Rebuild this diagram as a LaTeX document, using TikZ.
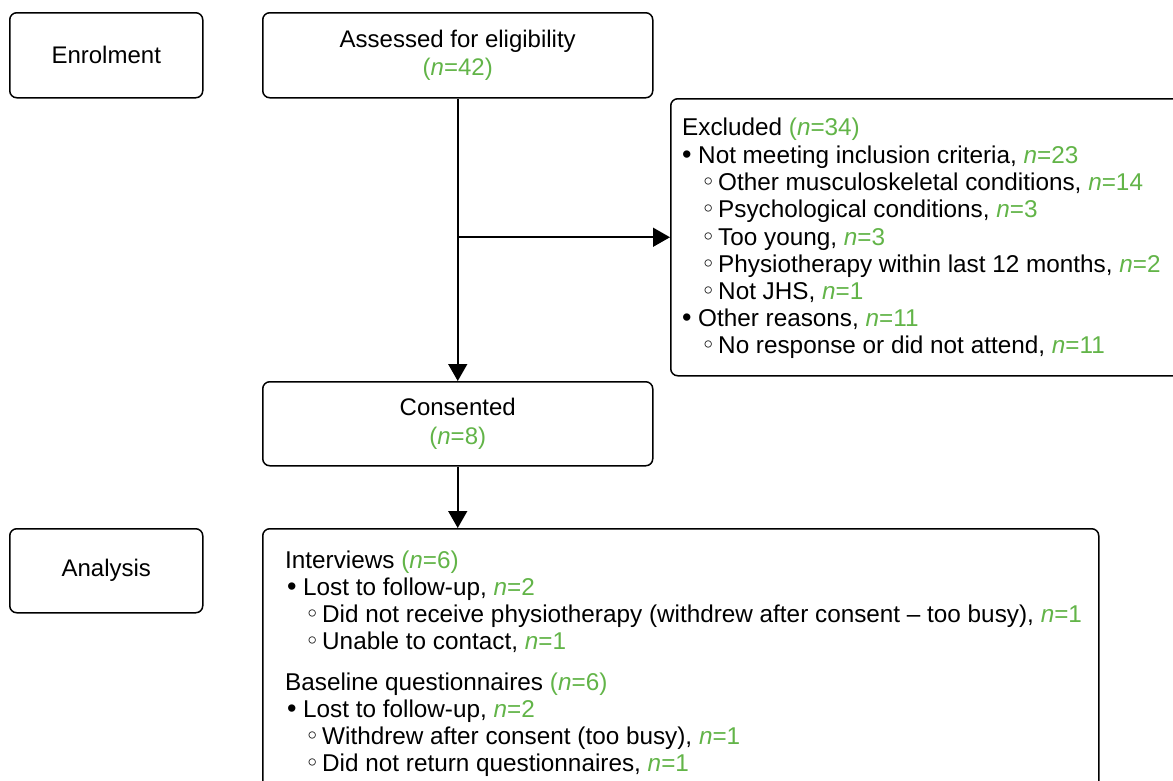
\documentclass[tikz,border=0pt]{standalone}
\usepackage{fontspec}
\setmainfont{Liberation Sans}
\newfontfamily\symfont{DejaVu Sans}
\usetikzlibrary{arrows.meta}
\definecolor{ngreen}{RGB}{98,180,72}
\newcommand{\gn}[1]{\textcolor{ngreen}{#1}}
\newcommand{\nv}[1]{\gn{\textit{n}=#1}}
\newcommand{\pnv}[1]{\gn{(\textit{n}=#1)}}
\newcommand{\bA}{\makebox[16pt][l]{\fontsize{27}{27}\selectfont•}}
\newcommand{\bB}{\makebox[17pt][l]{\symfont ◦}}
\begin{document}
\begin{tikzpicture}[x=1pt,y=-1pt,
  box/.style={draw, line width=1.5pt, rounded corners=7pt, anchor=north west, inner sep=0pt,
    align=center, font=\fontsize{24}{28.5}\selectfont},
  txt/.style={anchor=base west, inner sep=0pt, font=\fontsize{24.3}{27}\selectfont},
  arr/.style={line width=1.6pt, -{Triangle[length=17pt,width=19pt]}}]
\useasboundingbox (0,0) rectangle (1173,780);
\clip (0,0) rectangle (1173,780);
% boxes
\node[box, minimum width=193pt, minimum height=85pt] (enrol) at (9,12) {Enrolment};
\node[box, minimum width=390pt, minimum height=85pt] (assess) at (262,12) {Assessed for eligibility\\ \pnv{42}};
\node[box, minimum width=520pt, minimum height=277pt] (excl) at (670,98) {};
\node[box, minimum width=390pt, minimum height=84pt] (consent) at (262,381) {Consented\\ \pnv{8}};
\node[box, minimum width=193pt, minimum height=84pt] (anal) at (9,528) {Analysis};
\node[box, minimum width=836pt, minimum height=300pt] (res) at (262,528) {};
% connectors
\coordinate (junc) at (assess.south |- excl.west);
\draw[arr] (assess.south) -- (consent.north);
\draw[arr] (junc) -- (excl.west);
\draw[arr] (consent.south) -- (consent.south |- res.north);
% excluded text
\node[txt] (ex0) at (682,135) {Excluded \pnv{34}};
\node[txt] (ex1) at (682,163) {\bA Not meeting inclusion criteria, \nv{23}};
\node[txt] (ex2) at (701,190) {\bB Other musculoskeletal conditions, \nv{14}};
\node[txt] (ex3) at (701,217) {\bB Psychological conditions, \nv{3}};
\node[txt] (ex4) at (701,245) {\bB Too young, \nv{3}};
\node[txt] (ex5) at (701,272) {\bB Physiotherapy within last 12 months, \nv{2}};
\node[txt] (ex6) at (701,299) {\bB Not JHS, \nv{1}};
\node[txt] (ex7) at (682,326) {\bA Other reasons, \nv{11}};
\node[txt] (ex8) at (701,353) {\bB No response or did not attend, \nv{11}};
% analysis text
\node[txt] (an0) at (285,568) {Interviews \pnv{6}};
\node[txt] (an1) at (287,595) {\bA Lost to follow-up, \nv{2}};
\node[txt] (an2) at (305,622) {\bB Did not receive physiotherapy (withdrew after consent -- too busy), \nv{1}};
\node[txt] (an3) at (305,649) {\bB Unable to contact, \nv{1}};
\node[txt] (an4) at (285,690) {Baseline questionnaires \pnv{6}};
\node[txt] (an5) at (287,717) {\bA Lost to follow-up, \nv{2}};
\node[txt] (an6) at (305,744) {\bB Withdrew after consent (too busy), \nv{1}};
\node[txt] (an7) at (305,771) {\bB Did not return questionnaires, \nv{1}};
\end{tikzpicture}
\end{document}
